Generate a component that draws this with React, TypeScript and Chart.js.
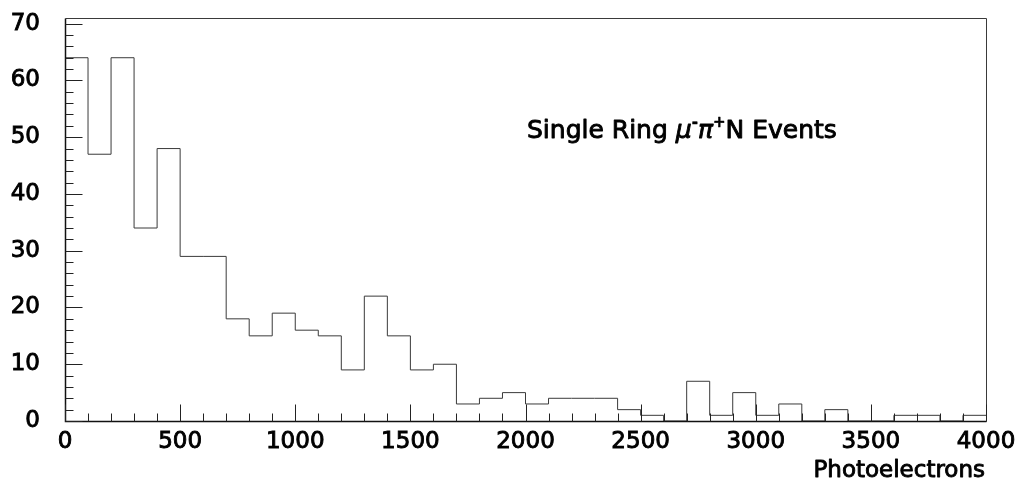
import React, { useEffect, useRef } from "react";
import { Chart, registerables } from "chart.js";

Chart.register(...registerables);

// Histogram: 40 bins of width 100 photoelectrons, from 0 to 4000
const binEdges: number[] = [
  0, 100, 200, 300, 400, 500, 600, 700, 800, 900,
  1000, 1100, 1200, 1300, 1400, 1500, 1600, 1700, 1800, 1900,
  2000, 2100, 2200, 2300, 2400, 2500, 2600, 2700, 2800, 2900,
  3000, 3100, 3200, 3300, 3400, 3500, 3600, 3700, 3800, 3900, 4000,
];
const counts: number[] = [
  64, 47, 64, 34, 48, 29, 29, 18, 15, 19,
  16, 15, 9, 22, 15, 9, 10, 3, 4, 5,
  3, 4, 4, 4, 2, 1, 0, 7, 1, 5,
  1, 3, 0, 2, 0, 0, 1, 1, 0, 1,
];

const xTickValues: number[] = [0, 500, 1000, 1500, 2000, 2500, 3000, 3500, 4000];
const yTickValues: number[] = [0, 10, 20, 30, 40, 50, 60, 70];
const xMinorStep = 100;
const yMinorStep = 2;
const xMin = 0;
const xMax = 4000;
const yMin = 0;
const yMax = 71;

const xAxisTitle = "Photoelectrons";
// [text, style] : n = normal, i = italic, s = superscript
const titleParts: [string, string][] = [
  ["Single Ring ", "n"],
  ["μ", "i"],
  ["-", "s"],
  ["π", "i"],
  ["+", "s"],
  ["N Events", "n"],
];

const FONT = "'DejaVu Sans', sans-serif";
const LINE = "#3a3a3a";

function drawText(ctx: any, t: string, x: number, y: number, sw: number) {
  ctx.fillText(t, x, y);
  if (sw > 0) {
    ctx.lineWidth = sw;
    ctx.strokeStyle = "#000";
    ctx.lineJoin = "round";
    ctx.strokeText(t, x, y);
  }
}

const framePlugin = {
  id: "frameAndTicks",
  afterDraw(chart: any) {
    const { ctx, chartArea } = chart;
    const xs = chart.scales.x;
    const ys = chart.scales.y;
    const L = Math.round(chartArea.left) + 0.5;
    const R = Math.round(chartArea.right) + 0.5;
    const T = Math.round(chartArea.top) + 0.5;
    const B = Math.round(chartArea.bottom) + 0.5;
    ctx.save();
    ctx.strokeStyle = LINE;
    ctx.lineWidth = 1;
    // top & right frame
    ctx.beginPath();
    ctx.moveTo(L, T);
    ctx.lineTo(R, T);
    ctx.lineTo(R, B);
    ctx.stroke();
    // axes (darker)
    ctx.strokeStyle = "#111";
    ctx.lineWidth = 1.5;
    ctx.beginPath();
    ctx.moveTo(L, T);
    ctx.lineTo(L, B);
    ctx.lineTo(R, B);
    ctx.stroke();
    // inward ticks
    ctx.strokeStyle = "#222";
    ctx.lineWidth = 1;
    ctx.beginPath();
    for (let v = xMin; v <= xMax; v += xMinorStep) {
      const px = Math.round(xs.getPixelForValue(v)) + 0.5;
      const len = xTickValues.includes(v) ? 17 : 8;
      ctx.moveTo(px, B);
      ctx.lineTo(px, B - len);
    }
    for (let v = yMin; v <= 70; v += yMinorStep) {
      const py = Math.round(ys.getPixelForValue(v)) + 0.5;
      const len = yTickValues.includes(v) ? 17 : 8;
      ctx.moveTo(L, py);
      ctx.lineTo(L + len, py);
    }
    ctx.stroke();

    ctx.fillStyle = "#000";
    ctx.textBaseline = "alphabetic";

    // x axis title
    ctx.textAlign = "right";
    ctx.font = `23px ${FONT}`;
    drawText(ctx, xAxisTitle, 985, 477, 0.9);

    // title text
    ctx.textAlign = "left";
    let x = 527;
    const base = 138;
    for (const [t, s] of titleParts) {
      if (s === "n") {
        ctx.font = `25px ${FONT}`;
        drawText(ctx, t, x, base, 0.9);
      } else if (s === "i") {
        ctx.font = `oblique 25px ${FONT}`;
        drawText(ctx, t, x, base, 0.9);
      } else {
        ctx.font = `bold 15px ${FONT}`;
        drawText(ctx, t, x, base - 11, 0.5);
      }
      x += ctx.measureText(t).width;
    }
    ctx.restore();
  },
};

export default function App() {
  const ref = useRef<HTMLCanvasElement | null>(null);

  useEffect(() => {
    document.body.style.margin = "0";
    const canvas = ref.current;
    if (!canvas) return;
    const points = binEdges.map((e, i) => ({
      x: e,
      y: i < counts.length ? counts[i] : counts[counts.length - 1],
    }));
    const chart = new Chart(canvas, {
      type: "line",
      data: {
        datasets: [
          {
            data: points,
            stepped: "before",
            borderColor: LINE,
            borderWidth: 1,
            pointRadius: 0,
            fill: false,
          },
        ],
      },
      options: {
        animation: false,
        responsive: false,
        maintainAspectRatio: false,
        layout: { padding: { left: 11, right: 36, top: 18, bottom: 0 } },
        plugins: {
          legend: { display: false },
          tooltip: { enabled: false },
          title: { display: false },
        },
        scales: {
          x: {
            type: "linear",
            min: xMin,
            max: xMax,
            grid: { display: false, drawTicks: false },
            border: { display: false },
            afterBuildTicks: (scale: any) => {
              scale.ticks = xTickValues.map((v) => ({ value: v }));
            },
            afterFit: (scale: any) => {
              scale.height = 62;
              scale.paddingLeft = 0;
              scale.paddingRight = 0;
              scale.paddingTop = 0;
              scale.paddingBottom = 0;
            },
            ticks: {
              padding: 7,
              color: "#000",
              textStrokeColor: "#000",
              textStrokeWidth: 0.9,
              font: { family: FONT, size: 23 },
              maxRotation: 0,
              autoSkip: false,
              callback: (v: any) => String(v),
            },
          },
          y: {
            type: "linear",
            min: yMin,
            max: yMax,
            grid: { display: false, drawTicks: false },
            border: { display: false },
            afterBuildTicks: (scale: any) => {
              scale.ticks = yTickValues.map((v) => ({ value: v }));
            },
            afterFit: (scale: any) => {
              scale.width = 54;
              scale.paddingLeft = 0;
              scale.paddingRight = 0;
              scale.paddingTop = 0;
              scale.paddingBottom = 0;
            },
            ticks: {
              padding: 25,
              color: "#000",
              textStrokeColor: "#000",
              textStrokeWidth: 0.9,
              font: { family: FONT, size: 23 },
              autoSkip: false,
              callback: (v: any) => String(v),
            },
          },
        },
      },
      plugins: [framePlugin],
    } as any);
    return () => chart.destroy();
  }, []);

  return (
    <div style={{ position: "absolute", left: 0, top: 0, width: 1022, height: 483, background: "#fff" }}>
      <canvas ref={ref} width={1022} height={483} style={{ display: "block", width: 1022, height: 483 }} />
    </div>
  );
}
